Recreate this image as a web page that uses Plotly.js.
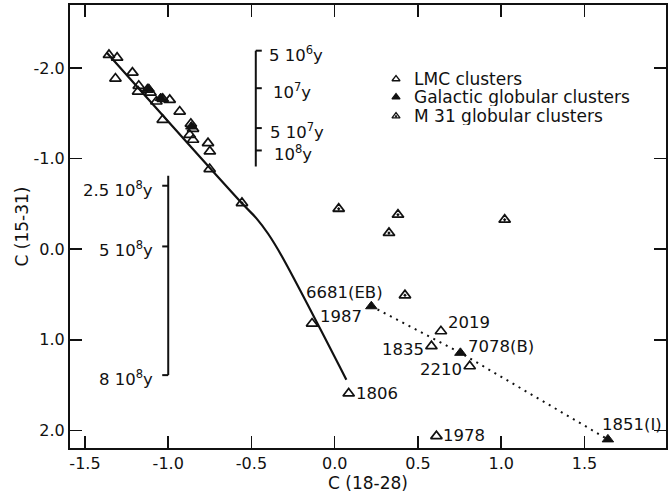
<!DOCTYPE html>
<html>
<head>
<meta charset="utf-8">
<script src="https://cdn.plot.ly/plotly-3.0.1.min.js"></script>
<style>
  html, body { margin: 0; padding: 0; background: #fff; }
  #chart { width: 670px; height: 495px; }
</style>
</head>
<body>
<div id="chart"></div>
<script>
// Two-colour diagram C(18-28) vs C(15-31) for star clusters

// LMC clusters (open triangles), unlabelled sequence
var lmcX = [-1.356, -1.307, -1.317, -1.215, -1.177, -1.181, -1.107, -1.071, -1.033, -0.991,
            -0.931, -1.033, -0.864, -0.851, -0.871, -0.851, -0.761, -0.750, -0.751, -1.125];
var lmcY = [-2.143, -2.113, -1.882, -1.948, -1.802, -1.739, -1.728, -1.629, -1.658, -1.647,
            -1.518, -1.427, -1.383, -1.328, -1.262, -1.207, -1.170, -1.078, -0.884, -1.760];

// Named LMC clusters
var lmcNames = ['1987', '2019', '1835', '2210', '1806', '1978'];
var lmcNamedX = [-0.136, 0.638, 0.581, 0.811, 0.084, 0.611];
var lmcNamedY = [0.821, 0.906, 1.071, 1.292, 1.592, 2.063];

// Galactic globular clusters (filled triangles)
var galX = [-1.117, -1.045, -0.861];
var galY = [-1.770, -1.667, -1.353];
var galNames = ['6681(EB)', '7078(B)', '1851(I)'];
var galNamedX = [0.220, 0.755, 1.641];
var galNamedY = [0.630, 1.144, 2.099];

// M 31 globular clusters
var m31X = [-0.557, 0.024, 0.380, 0.326, 1.021, 0.422];
var m31Y = [-0.509, -0.446, -0.380, -0.179, -0.325, 0.509];

// Model sequence
var seqX = [-1.37, -0.554, -0.47, -0.40, -0.32, 0.07];
var seqY = [-2.17, -0.50, -0.34, -0.17, 0.07, 1.44];

// Age scales along the sequence
var youngAgeLabels = ['5 10<sup>6</sup>y', '10<sup>7</sup>y', '5 10<sup>7</sup>y', '10<sup>8</sup>y'];
var youngAgeY = [-2.19, -1.776, -1.336, -1.089];
var youngBar = { x: -0.474, y0: -2.19, y1: -0.912 };
var oldAgeLabels = ['2.5 10<sup>8</sup>y', '5 10<sup>8</sup>y', '8 10<sup>8</sup>y'];
var oldAgeY = [-0.70, -0.03, 1.39];
var oldBar = { x: -1.0, y0: -0.81, y1: 1.39 };

// Legend entries
var legendNames = ['LMC clusters', 'Galactic globular clusters', 'M 31 globular clusters'];
var legendSymbols = ['triangle-up-open', 'triangle-up', 'triangle-up-open-dot'];

// Axis ticks
var xTickVals = [-1.5, -1.0, -0.5, 0.0, 0.5, 1.0, 1.5, 2.0];
var xTickText = ['-1.5', '-1.0', '-0.5', '0.0', '0.5', '1.0', '1.5', '2.0'];
var yTickVals = [-2.0, -1.0, 0.0, 1.0, 2.0];
var yTickText = ['-2.0', '-1.0', '0.0', '1.0', '2.0'];

var FONT = 'DejaVu Sans, sans-serif';
var INK = '#111';

var traces = [
  { x: seqX, y: seqY, mode: 'lines', type: 'scatter', showlegend: false,
    line: { color: INK, width: 2.2, shape: 'spline', smoothing: 1 }, hoverinfo: 'skip' },
  { x: galNamedX, y: galNamedY, mode: 'lines', type: 'scatter', showlegend: false,
    line: { color: INK, width: 2, dash: '2px,5px' }, hoverinfo: 'skip' },
  { x: lmcX.concat(lmcNamedX), y: lmcY.concat(lmcNamedY), mode: 'markers', type: 'scatter',
    showlegend: false,
    marker: { symbol: 'triangle-up-open', size: 10, color: INK, line: { width: 1.7, color: INK } } },
  { x: galX.concat(galNamedX), y: galY.concat(galNamedY), mode: 'markers', type: 'scatter',
    showlegend: false,
    marker: { symbol: 'triangle-up', size: 10, color: INK, line: { width: 1, color: INK } } },
  { x: m31X, y: m31Y, mode: 'markers', type: 'scatter', showlegend: false,
    marker: { symbol: 'triangle-up-open-dot', size: 10, color: INK, line: { width: 1.8, color: INK } } }
];

// key symbols, drawn on an overlay axis pair spanning the plot area in [0,1]
var keyX = 0.547, keyTextX = 0.576, keyRowY = [0.833, 0.792, 0.749];
traces.push({
  x: keyRowY.map(function () { return keyX; }), y: keyRowY,
  xaxis: 'x2', yaxis: 'y2', mode: 'markers', type: 'scatter', showlegend: false, hoverinfo: 'skip',
  marker: { symbol: legendSymbols, size: 7, color: INK, line: { width: 1.3, color: INK } }
});

var annotations = [];
var labelFont = { family: FONT, size: 16.5, color: INK };

legendNames.forEach(function (n, i) {
  annotations.push({ xref: 'paper', yref: 'paper', x: keyTextX, y: keyRowY[i], text: n,
    showarrow: false, xanchor: 'left', yanchor: 'middle', height: 18, borderpad: 0,
    font: { family: FONT, size: 17, color: INK } });
});

// cluster name offsets (pixels from the marker)
var lmcOffsets = [
  { xanchor: 'left', xshift: 6, yshift: 7 },
  { xanchor: 'left', xshift: 5, yshift: 9 },
  { xanchor: 'right', xshift: -5, yshift: -3 },
  { xanchor: 'right', xshift: -6, yshift: -3 },
  { xanchor: 'left', xshift: 5, yshift: 0 },
  { xanchor: 'left', xshift: 5, yshift: 1 }
];
lmcNames.forEach(function (n, i) {
  var o = lmcOffsets[i];
  annotations.push({ x: lmcNamedX[i], y: lmcNamedY[i], text: n, showarrow: false,
    xanchor: o.xanchor, yanchor: 'middle', xshift: o.xshift, yshift: o.yshift, font: labelFont });
});
var galOffsets = [
  { xanchor: 'center', xshift: -27, yshift: 14 },
  { xanchor: 'left', xshift: 6, yshift: 6 },
  { xanchor: 'left', xshift: -8, yshift: 15 }
];
galNames.forEach(function (n, i) {
  var o = galOffsets[i];
  annotations.push({ x: galNamedX[i], y: galNamedY[i], text: n, showarrow: false,
    xanchor: o.xanchor, yanchor: 'middle', xshift: o.xshift, yshift: o.yshift, font: labelFont });
});

var shapes = [];
var barLine = { color: INK, width: 2 };
// young age bar, ticks to the right
shapes.push({ type: 'line', xref: 'x', yref: 'y', x0: youngBar.x, x1: youngBar.x,
  y0: youngBar.y0, y1: youngBar.y1, line: barLine });
youngAgeY.forEach(function (y, i) {
  shapes.push({ type: 'line', xref: 'x', yref: 'y', xsizemode: 'pixel', xanchor: youngBar.x,
    x0: 0, x1: 6, y0: y, y1: y, line: barLine });
  annotations.push({ x: youngBar.x, y: y, text: youngAgeLabels[i], showarrow: false,
    xanchor: 'left', yanchor: 'middle', xshift: [11, 15, 12, 16][i], yshift: -3, font: labelFont });
});
// old age bar, ticks to the left
shapes.push({ type: 'line', xref: 'x', yref: 'y', x0: oldBar.x, x1: oldBar.x,
  y0: oldBar.y0, y1: oldBar.y1, line: barLine });
oldAgeY.forEach(function (y, i) {
  shapes.push({ type: 'line', xref: 'x', yref: 'y', xsizemode: 'pixel', xanchor: oldBar.x,
    x0: -6, x1: 0, y0: y, y1: y, line: barLine });
  annotations.push({ x: oldBar.x, y: y, text: oldAgeLabels[i], showarrow: false,
    xanchor: 'right', yanchor: 'middle', xshift: -13, yshift: -3, font: labelFont });
});

var axisCommon = {
  showgrid: false, zeroline: false, showline: true, mirror: 'ticks',
  linecolor: INK, linewidth: 2, ticks: 'inside', ticklen: 12, tickwidth: 1.5, tickcolor: INK,
  tickfont: { family: FONT, size: 16, color: INK }, tickmode: 'array'
};

var layout = {
  width: 670, height: 495,
  margin: { l: 70, r: 4, t: 5, b: 47 },
  paper_bgcolor: '#fff', plot_bgcolor: '#fff',
  font: { family: FONT, color: INK },
  showlegend: false,
  xaxis: Object.assign({}, axisCommon, {
    range: [-1.59, 1.99], tickvals: xTickVals, ticktext: xTickText,
    title: { text: 'C (18-28)', font: { family: FONT, size: 17, color: INK }, standoff: 3 }
  }),
  yaxis: Object.assign({}, axisCommon, {
    range: [2.194, -2.694], tickvals: yTickVals, ticktext: yTickText,
    title: { text: 'C (15-31)', font: { family: FONT, size: 17, color: INK }, standoff: 1 }
  }),
  xaxis2: { overlaying: 'x', range: [0, 1], visible: false, fixedrange: true },
  yaxis2: { overlaying: 'y', range: [0, 1], visible: false, fixedrange: true },
  shapes: shapes,
  annotations: annotations
};

Plotly.newPlot('chart', traces, layout, { displayModeBar: false, staticPlot: true });
</script>
</body>
</html>
